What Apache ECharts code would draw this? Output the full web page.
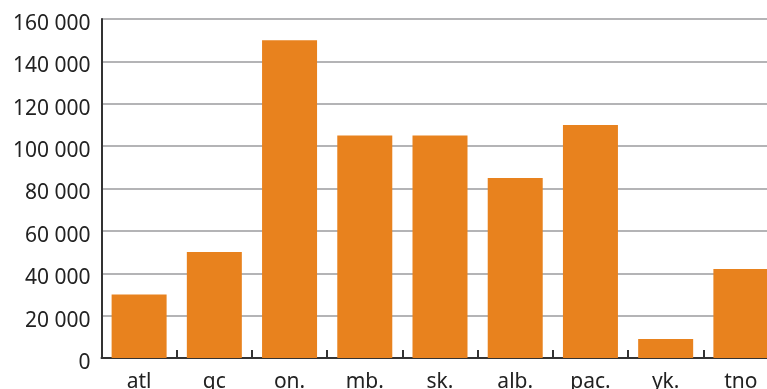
<!DOCTYPE html>
<html><head><meta charset="utf-8">
<script src="https://cdn.jsdelivr.net/npm/echarts@6/dist/echarts.min.js"></script>
<style>html,body{margin:0;padding:0;background:#fff}#c{width:767px;height:389px}</style>
</head><body><div id="c"></div>
<script>
const categories = ['atl','qc','on.','mb.','sk.','alb.','pac.','yk.','tno'];
const values = [30000, 50000, 150000, 105000, 105000, 85000, 110000, 9000, 42000];
const yTicks = {min: 0, max: 160000, interval: 20000};

const chart = echarts.init(document.getElementById('c'), null, {renderer: 'canvas'});
const fmt = v => String(v).replace(/\B(?=(\d{3})+(?!\d))/g, ' ');
chart.setOption({
  animation: false,
  grid: {left: 101.5, top: 19, right: -11.5, bottom: 31, containLabel: false, outerBoundsMode: 'none'},
  xAxis: {
    type: 'category', data: categories,
    axisLine: {show: true, lineStyle: {color: '#333', width: 2}},
    axisTick: {show: true, inside: true, length: 8, lineStyle: {color: '#333', width: 2}},
    axisLabel: {color: '#222', fontFamily: 'Noto Sans', fontSize: 21, margin: 14, interval: 0}
  },
  yAxis: {
    type: 'value', min: yTicks.min, max: yTicks.max, interval: yTicks.interval,
    axisLine: {show: true, lineStyle: {color: '#333', width: 2}},
    axisTick: {show: false},
    splitLine: {show: true, lineStyle: {color: '#b4b4b6', width: 2}},
    axisLabel: {color: '#222', fontFamily: 'Noto Sans', fontSize: 21, margin: 11, verticalAlign: 'top', lineHeight: 10, formatter: fmt}
  },
  series: [{type: 'bar', data: values, barWidth: 55, itemStyle: {color: '#E8821E'}}]
});
</script></body></html>
